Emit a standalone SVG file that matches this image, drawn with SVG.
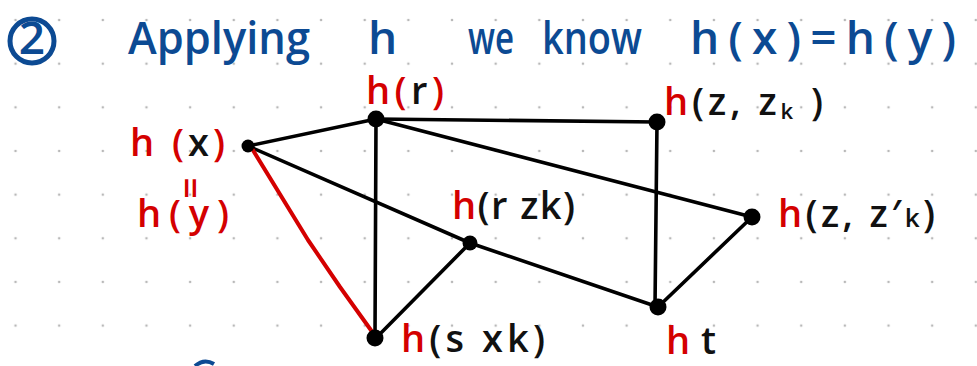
<svg xmlns="http://www.w3.org/2000/svg" width="977" height="366" viewBox="0 0 977 366">
<style>
.t{font-family:"Open Sans","Liberation Sans",sans-serif;font-weight:600;}
.ttl{fill:#0c4a93;font-size:46px;}
.lb{font-size:38px;fill:#111;}
.r{fill:#d40000;}
.k{fill:#111;}
.e{stroke:#000;stroke-width:3.6;stroke-linecap:round;fill:none;}
.er{stroke:#d40000;stroke-width:4;stroke-linecap:round;stroke-linejoin:round;fill:none;}
.n{fill:#000;}
</style>
<defs>
<pattern id="grid" patternUnits="userSpaceOnUse" x="-6.3" y="-1.8" width="43.65" height="43.65">
<circle cx="21.8" cy="21.8" r="1.3" fill="#b8b8b8"/>
</pattern>
</defs>
<rect width="977" height="366" fill="#fff"/>
<rect width="977" height="366" fill="url(#grid)"/>

<g id="title">
<circle cx="32" cy="41" r="22" fill="none" stroke="#0c4a93" stroke-width="5"/>
<text class="t ttl" x="32" y="54" text-anchor="middle" font-size="38">2</text>
<text class="t ttl" x="128" y="54" textLength="182" lengthAdjust="spacingAndGlyphs">Applying</text>
<text class="t ttl" x="368" y="54">h</text>
<text class="t ttl" x="468" y="54" textLength="46" lengthAdjust="spacingAndGlyphs">we</text>
<text class="t ttl" x="542" y="54" textLength="100" lengthAdjust="spacingAndGlyphs">know</text>
<text class="t ttl" x="690" y="54" font-size="44" textLength="266">h(x)=h(y)</text>
</g>

<g id="connectors">
<line class="e" x1="248" y1="146" x2="376" y2="119"/>
<line class="e" x1="248" y1="146" x2="470" y2="243"/>
<line class="e" x1="376" y1="119" x2="657" y2="122"/>
<line class="e" x1="376" y1="119" x2="752" y2="217"/>
<line class="e" x1="376" y1="119" x2="375" y2="338"/>
<line class="e" x1="657" y1="122" x2="655" y2="307"/>
<line class="e" x1="658" y1="307" x2="752" y2="217"/>
<line class="e" x1="470" y1="243" x2="658" y2="307"/>
<line class="e" x1="470" y1="243" x2="376" y2="338"/>
<path class="er" d="M251,147 L308,240 L340,287 L373,333"/>
</g>

<g id="node-hx">
<circle class="n" cx="248" cy="146" r="6.5"/>
<text class="t lb" x="130" y="156" font-size="40" textLength="95"><tspan class="r">h (</tspan><tspan class="k">x</tspan><tspan class="r">)</tspan></text>
<text class="t lb r" x="187" y="188" text-anchor="middle" font-size="28" transform="rotate(90 187 188)" dy="10">=</text>
<text class="t lb r" x="137" y="227" font-size="40" textLength="92">h(y)</text>
</g>

<g id="node-hr">
<circle class="n" cx="376" cy="119" r="8.5"/>
<text class="t lb" x="366" y="104" font-size="36" textLength="78"><tspan class="r">h(</tspan><tspan class="k">r</tspan><tspan class="r">)</tspan></text>
</g>

<g id="node-hzzk">
<circle class="n" cx="657" cy="122" r="8.5"/>
<text class="t lb" x="664" y="115" font-size="34" textLength="159"><tspan class="r">h</tspan><tspan class="k">(z, z</tspan><tspan class="k" font-size="22" dy="4">k</tspan><tspan class="k" dy="-4"> )</tspan></text>
</g>

<g id="node-hzz2k">
<circle class="n" cx="752" cy="217" r="8.5"/>
<text class="t lb" x="778" y="227" font-size="36" textLength="157"><tspan class="r">h</tspan><tspan class="k">(z, z′</tspan><tspan class="k" font-size="26">k</tspan><tspan class="k">)</tspan></text>
</g>

<g id="node-hrzk">
<circle class="n" cx="470" cy="243" r="7.5"/>
<text class="t lb" x="452" y="219" font-size="34" textLength="123"><tspan class="r">h</tspan><tspan class="k">(r zk)</tspan></text>
</g>

<g id="node-hsxk">
<circle class="n" cx="375" cy="338" r="8.5"/>
<text class="t lb" x="401" y="352" font-size="38" textLength="144"><tspan class="r">h</tspan><tspan class="k">(s xk)</tspan></text>
</g>

<g id="node-ht">
<circle class="n" cx="658" cy="307" r="8.5"/>
<text class="t lb" x="666" y="354" font-size="42" textLength="50"><tspan class="r">h</tspan><tspan class="k">t</tspan></text>
</g>

<path d="M195,366 Q204,358 214,364" fill="none" stroke="#0c4a93" stroke-width="4"/>
</svg>
